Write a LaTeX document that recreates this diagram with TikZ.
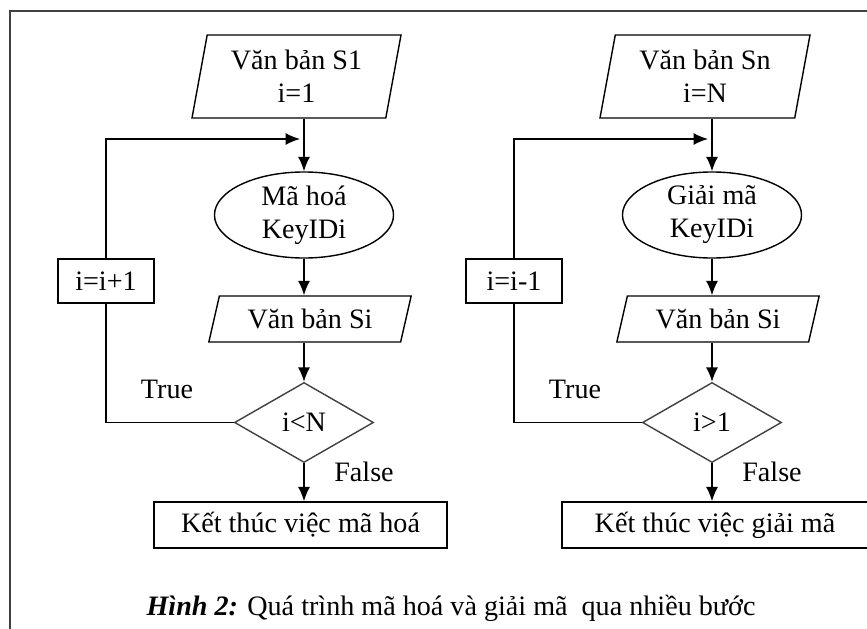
\documentclass[tikz,border=0pt]{standalone}
\usepackage{fontspec}
\setmainfont{Liberation Serif}
\usetikzlibrary{shapes.geometric,arrows.meta}

\begin{document}
\begin{tikzpicture}[x=0.025cm, y=-0.025cm, line width=1pt,
    font=\fontsize{20}{23.5}\selectfont,
    arr/.style={-{Latex[length=0.36cm,width=0.3cm]}},
    para/.style 2 args={trapezium, trapezium left angle=#1, trapezium right angle=#2,
        trapezium stretches=true, draw, inner sep=0pt, align=center},
    oval/.style={ellipse, draw, inner sep=0pt, minimum width=4.475cm, minimum height=2.15cm, align=center},
    cond/.style={diamond, draw=black!75, inner sep=0pt, minimum width=3.475cm, minimum height=2cm},
    box/.style={rectangle, draw, inner sep=0pt, minimum height=1.1cm}]

    \useasboundingbox (0,0) rectangle (867,629);
    \clip (0,0) rectangle (867,629);
    \draw[line width=1.6pt, black!75] (10,11) rectangle (900,660);

    % ma hoa
    \node[para={78}{102}, minimum width=5.225cm, minimum height=2.075cm] (S1) at (296.5,76.5) {Văn bản S1\\i=1};
    \node[oval] (E1) at (304,215) {Mã hoá\\KeyIDi};
    \node[para={70}{110}, minimum width=5.1cm, minimum height=1.15cm] (V1) at (310,319) {Văn bản Si};
    \node[cond] (D1) at (304,422.5) {i<N};
    \node[box, minimum width=7.325cm, minimum height=1.15cm] (K1) at (300.5,525) {Kết thúc việc mã hoá};
    \node[box, minimum width=2.4cm] (I1) at (106,281) {i=i+1};
    \coordinate (J1) at (304,139);
    \node (T1) at (167,389) {True};
    \node (F1) at (364,472) {False};

    \draw[arr] (S1.south -| E1) -- (E1);
    \draw[arr, shorten >=0.1cm] (I1.north) |- (J1);
    \draw[arr] (E1) -- (V1.north -| E1);
    \draw[arr] (V1.south -| E1) -- (D1);
    \draw[arr] (D1) -- (K1.north -| D1);
    \draw (D1.west) -| (I1.south);

    % giai ma
    \node[para={78}{102}, minimum width=5.25cm, minimum height=2.075cm] (S2) at (705,76.5) {Văn bản Sn\\i=N};
    \node[oval] (E2) at (712,215) {Giải mã\\KeyIDi};
    \node[para={70}{110}, minimum width=5.1cm, minimum height=1.15cm] (V2) at (718,319) {Văn bản Si};
    \node[cond] (D2) at (712,422.5) {i>1};
    \node[box, minimum width=7.65cm, minimum height=1.15cm] (K2) at (715,525) {Kết thúc việc giải mã};
    \node[box, minimum width=2.4cm] (I2) at (514,281) {i=i-1};
    \coordinate (J2) at (712,139);
    \node (T2) at (575,389) {True};
    \node (F2) at (772,472) {False};

    \draw[arr] (S2.south -| E2) -- (E2);
    \draw[arr, shorten >=0.1cm] (I2.north) |- (J2);
    \draw[arr] (E2) -- (V2.north -| E2);
    \draw[arr] (V2.south -| E2) -- (D2);
    \draw[arr] (D2) -- (K2.north -| D2);
    \draw (D2.west) -| (I2.south);

    \node (C) at (451,608) {\textbf{\textit{Hình 2:}} Quá trình mã hoá và giải mã~ qua nhiều bước};
\end{tikzpicture}
\end{document}
